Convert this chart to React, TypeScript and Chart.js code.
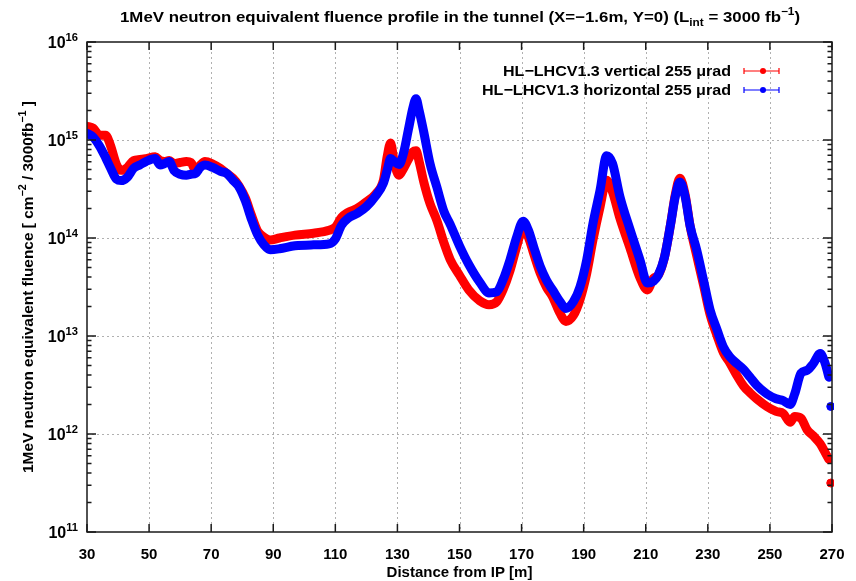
import React, { useEffect, useRef } from "react";
import { Chart, registerables } from "chart.js";

Chart.register(...registerables);

// Distance from the interaction point [m]
const distance = [
  30, 32, 34, 36, 37.5, 39.5, 41, 43, 45, 47, 49, 52, 53.5, 55, 56.5, 58, 60, 62, 63.5, 65,
  66.5, 68, 70.5, 73, 75, 77, 79, 81, 83, 85, 87, 89, 92, 97, 103, 108, 110, 112, 114, 117,
  120, 123, 125.5, 126.7, 127.8, 129, 130.5, 132, 133.5, 135, 136, 137, 138.5, 140.5, 142.7,
  145, 147, 150, 153, 156.5, 159.5, 162, 164, 166.3, 168.4, 170.5, 172.2, 174, 176, 178, 180,
  182.4, 184.3, 186.7, 188.8, 191, 193, 195.3, 197.4, 199.3, 201.7, 204.9, 208.2, 210.5,
  212.5, 214, 216, 218, 219.5, 221, 222.7, 224.3, 226.4, 228.6, 230.7, 233, 235, 237, 239.3,
  241.5, 243.6, 245.7, 249, 252, 254.3, 256.5, 258, 260, 262, 264, 266.2, 267.8, 269,
];

// 1 MeV neq fluence, vertical crossing
const verticalFluence = [
  1.38e15, 1.32e15, 1.12e15, 1.12e15, 8.91e14, 5.62e14, 4.9e14, 5.25e14, 6.17e14, 6.31e14,
  6.46e14, 6.76e14, 6.17e14, 6.03e14, 6.17e14, 5.75e14, 5.89e14, 6.03e14, 5.89e14, 4.9e14,
  5.56e14, 6.03e14, 5.69e14, 5.13e14, 4.57e14, 4.07e14, 3.39e14, 2.57e14, 1.7e14, 1.17e14,
  1.02e14, 9.55e13, 1.0e14, 1.07e14, 1.12e14, 1.2e14, 1.29e14, 1.62e14, 1.82e14, 2.0e14,
  2.34e14, 2.82e14, 3.89e14, 6.76e14, 9.33e14, 5.89e14, 4.37e14, 5.13e14, 6.31e14, 7.59e14,
  7.76e14, 6.03e14, 3.72e14, 2.24e14, 1.51e14, 8.91e13, 6.03e13, 4.17e13, 2.95e13, 2.29e13,
  2.09e13, 2.24e13, 2.95e13, 4.68e13, 8.13e13, 1.26e14, 1.02e14, 6.76e13, 4.37e13, 3.16e13,
  2.51e13, 1.7e13, 1.41e13, 1.62e13, 2.34e13, 4.37e13, 9.55e13, 2.09e14, 3.89e14, 2.95e14,
  1.58e14, 7.94e13, 3.89e13, 2.95e13, 3.89e13, 4.17e13, 6.31e13, 1.38e14, 2.75e14, 4.07e14,
  2.75e14, 1.32e14, 6.61e13, 3.31e13, 1.66e13, 1.0e13, 6.76e12, 5.37e12, 3.98e12, 3.09e12,
  2.63e12, 2.29e12, 1.91e12, 1.7e12, 1.62e12, 1.32e12, 1.51e12, 1.45e12, 1.1e12, 9.55e11,
  7.94e11, 6.46e11, 5.5e11,
];

// 1 MeV neq fluence, horizontal crossing
const horizontalFluence = [
  1.17e15, 1.07e15, 8.71e14, 6.61e14, 5.25e14, 3.98e14, 3.85e14, 4.17e14, 5.13e14, 5.56e14,
  6.03e14, 6.46e14, 5.56e14, 5.75e14, 6.03e14, 4.9e14, 4.47e14, 4.37e14, 4.47e14, 4.57e14,
  5.25e14, 5.56e14, 5.25e14, 4.79e14, 4.57e14, 3.89e14, 3.31e14, 2.4e14, 1.55e14, 1.07e14,
  8.51e13, 7.59e13, 7.76e13, 8.32e13, 8.51e13, 8.71e13, 9.77e13, 1.35e14, 1.58e14, 1.78e14,
  2.09e14, 2.69e14, 3.63e14, 4.9e14, 6.46e14, 6.03e14, 5.62e14, 7.41e14, 1.26e15, 2.14e15,
  2.63e15, 2.0e15, 1.2e15, 5.75e14, 3.31e14, 1.86e14, 1.38e14, 8.32e13, 5.37e13, 3.55e13,
  2.75e13, 2.82e13, 3.72e13, 6.03e13, 1.02e14, 1.48e14, 1.2e14, 7.94e13, 5.13e13, 3.72e13,
  2.95e13, 2.24e13, 1.91e13, 2.24e13, 3.16e13, 6.03e13, 1.41e14, 3.09e14, 6.92e14, 5.75e14,
  2.63e14, 1.23e14, 5.89e13, 3.47e13, 3.63e13, 4.17e13, 6.31e13, 1.38e14, 2.63e14, 3.72e14,
  2.63e14, 1.32e14, 7.59e13, 3.72e13, 1.86e13, 1.15e13, 7.76e12, 6.17e12, 5.25e12, 4.57e12,
  3.8e12, 3.16e12, 2.57e12, 2.29e12, 2.19e12, 2.0e12, 2.57e12, 4.17e12, 4.47e12, 5.25e12,
  6.61e12, 5.25e12, 3.8e12,
];

// Last bin at the end of the tunnel, shown on its own
const lastBinDistance = 269.6;
const lastBinVertical = 3.16e11;
const lastBinHorizontal = 1.91e12;

const xTicks = [30, 50, 70, 90, 110, 130, 150, 170, 190, 210, 230, 250, 270];
const yExponents = [11, 12, 13, 14, 15, 16];
const seriesLabels = ["HL−LHCV1.3 vertical 255 μrad", "HL−LHCV1.3 horizontal 255 μrad"];
const seriesColors = ["#ff0000", "#0000ff"];

type Part = [string, number]; // 0 normal, 1 superscript, -1 subscript

const titleParts: Part[] = [
  ["1MeV neutron equivalent fluence profile in the tunnel (X=−1.6m, Y=0) (L", 0],
  ["int", -1],
  [" = 3000 fb", 0],
  ["−1", 1],
  [")", 0],
];
const yTitleParts: Part[] = [
  ["1MeV neutron equivalent fluence [ cm", 0],
  ["−2", 1],
  [" / 3000fb", 0],
  ["−1", 1],
  [" ]", 0],
];
const xTitle = "Distance from IP [m]";

const FONT = '"Liberation Sans", Arial, Helvetica, sans-serif';

function drawRich(
  ctx: CanvasRenderingContext2D,
  parts: Part[],
  x: number,
  y: number,
  size: number,
  align: "left" | "center" | "right",
  fitWidth?: number
) {
  const small = size * 0.7;
  const widths = parts.map(([t, k]) => {
    ctx.font = `bold ${k === 0 ? size : small}px ${FONT}`;
    return ctx.measureText(t).width;
  });
  const total = widths.reduce((a, b) => a + b, 0);
  const sx = fitWidth ? fitWidth / total : 1;
  const w = total * sx;
  const x0 = align === "left" ? x : align === "center" ? x - w / 2 : x - w;
  ctx.save();
  ctx.translate(x0, y);
  ctx.scale(sx, 1);
  ctx.textAlign = "left";
  ctx.textBaseline = "alphabetic";
  let cx = 0;
  parts.forEach(([t, k], i) => {
    ctx.font = `bold ${k === 0 ? size : small}px ${FONT}`;
    const dy = k === 1 ? -size * 0.45 : k === -1 ? size * 0.28 : 0;
    ctx.fillText(t, cx, dy);
    cx += widths[i];
  });
  ctx.restore();
}

const framePlugin = {
  id: "gnuplotFrame",
  beforeDatasetsDraw(chart: any) {
    const { ctx, chartArea: a, scales } = chart;
    const xs = scales.x;
    const ys = scales.y;
    ctx.save();
    ctx.strokeStyle = "#b0b0b0";
    ctx.lineWidth = 1;
    ctx.setLineDash([2, 3]);
    xTicks.slice(1, -1).forEach((v) => {
      const px = Math.round(xs.getPixelForValue(v)) + 0.5;
      ctx.beginPath();
      ctx.moveTo(px, a.top);
      ctx.lineTo(px, a.bottom);
      ctx.stroke();
    });
    yExponents.slice(1, -1).forEach((e) => {
      const py = Math.round(ys.getPixelForValue(Math.pow(10, e))) + 0.5;
      ctx.beginPath();
      ctx.moveTo(a.left, py);
      ctx.lineTo(a.right, py);
      ctx.stroke();
    });
    ctx.restore();
  },
  afterDatasetsDraw(chart: any) {
    const { ctx, chartArea: a, scales } = chart;
    const xs = scales.x;
    const ys = scales.y;
    ctx.save();
    ctx.fillStyle = "#000";
    ctx.strokeStyle = "#1a1a1a";
    ctx.lineWidth = 1.5;
    ctx.setLineDash([]);

    // frame
    ctx.strokeRect(a.left, a.top, a.right - a.left, a.bottom - a.top);

    // x ticks (bottom and top)
    xTicks.forEach((v) => {
      const px = xs.getPixelForValue(v);
      ctx.beginPath();
      ctx.moveTo(px, a.bottom);
      ctx.lineTo(px, a.bottom - 8);
      ctx.moveTo(px, a.top);
      ctx.lineTo(px, a.top + 8);
      ctx.stroke();
    });

    // y ticks: decades and minor 2..9
    yExponents.forEach((e) => {
      const py = ys.getPixelForValue(Math.pow(10, e));
      ctx.beginPath();
      ctx.moveTo(a.left, py);
      ctx.lineTo(a.left + 9, py);
      ctx.moveTo(a.right, py);
      ctx.lineTo(a.right - 9, py);
      ctx.stroke();
      if (e < 16) {
        for (let m = 2; m <= 9; m++) {
          const pm = ys.getPixelForValue(m * Math.pow(10, e));
          ctx.beginPath();
          ctx.moveTo(a.left, pm);
          ctx.lineTo(a.left + 4.5, pm);
          ctx.moveTo(a.right, pm);
          ctx.lineTo(a.right - 4.5, pm);
          ctx.stroke();
        }
      }
    });

    // y tick labels
    yExponents.forEach((e) => {
      const py = ys.getPixelForValue(Math.pow(10, e));
      drawRich(ctx, [["10", 0], [String(e), 1]], a.left - 9, py + 6, 16, "right");
    });

    // x tick labels
    ctx.font = `bold 15px ${FONT}`;
    ctx.textAlign = "center";
    ctx.textBaseline = "alphabetic";
    xTicks.forEach((v) => {
      ctx.fillText(String(v), xs.getPixelForValue(v), a.bottom + 27);
    });

    // axis titles
    drawRich(ctx, [[xTitle, 0]], (a.left + a.right) / 2, a.bottom + 45, 15, "center");
    ctx.save();
    ctx.translate(33, (a.top + a.bottom) / 2);
    ctx.rotate(-Math.PI / 2);
    drawRich(ctx, yTitleParts, 0, 0, 15, "center", 372);
    ctx.restore();

    // chart title
    drawRich(ctx, titleParts, 460, 22, 15, "center", 680);

    // key
    const keyRight = 731;
    const keyWidths = [228, 249];
    [0, 1].forEach((i) => {
      const cy = 71 + i * 19;
      ctx.fillStyle = "#000";
      drawRich(ctx, [[seriesLabels[i], 0]], keyRight, cy + 5, 15.5, "right", keyWidths[i]);
      ctx.strokeStyle = seriesColors[i];
      ctx.fillStyle = seriesColors[i];
      ctx.lineWidth = 1.2;
      ctx.beginPath();
      ctx.moveTo(744, cy);
      ctx.lineTo(779, cy);
      ctx.moveTo(744, cy - 3);
      ctx.lineTo(744, cy + 3);
      ctx.moveTo(779, cy - 3);
      ctx.lineTo(779, cy + 3);
      ctx.stroke();
      ctx.beginPath();
      ctx.arc(763, cy, 3, 0, Math.PI * 2);
      ctx.fill();
    });
    ctx.restore();
  },
};

export default function App() {
  const canvasRef = useRef<HTMLCanvasElement | null>(null);

  useEffect(() => {
    const canvas = canvasRef.current;
    if (!canvas) return;
    const band = (values: number[], i: number, order: number) => ({
      label: seriesLabels[i],
      data: distance.map((x, k) => ({ x, y: values[k] })),
      borderColor: seriesColors[i],
      backgroundColor: seriesColors[i],
      borderWidth: 9,
      borderJoinStyle: "round" as const,
      borderCapStyle: "round" as const,
      cubicInterpolationMode: "monotone" as const,
      pointRadius: 0,
      fill: false,
      clip: 0,
      order,
    });
    const lastBin = (value: number, i: number, order: number) => ({
      label: seriesLabels[i] + " (last bin)",
      data: [{ x: lastBinDistance, y: value }],
      showLine: false,
      pointRadius: 4,
      pointStyle: "circle" as const,
      pointBackgroundColor: seriesColors[i],
      pointBorderColor: seriesColors[i],
      borderColor: seriesColors[i],
      backgroundColor: seriesColors[i],
      clip: 2,
      order,
    });

    const chart = new Chart(canvas, {
      type: "line",
      data: {
        datasets: [
          band(verticalFluence, 0, 4),
          band(horizontalFluence, 1, 3),
          lastBin(lastBinVertical, 0, 2),
          lastBin(lastBinHorizontal, 1, 1),
        ] as any,
      },
      options: {
        animation: false,
        responsive: false,
        devicePixelRatio: 1,
        layout: { padding: { left: 87, right: 24, top: 42, bottom: 49 } },
        scales: {
          x: { type: "linear", min: 30, max: 270, display: false },
          y: { type: "logarithmic", min: 1e11, max: 1e16, display: false },
        },
        plugins: {
          legend: { display: false },
          tooltip: { enabled: false },
          title: { display: false },
        },
      },
      plugins: [framePlugin],
    });
    return () => chart.destroy();
  }, []);

  return (
    <div
      style={{
        position: "fixed",
        left: 0,
        top: 0,
        width: 856,
        height: 581,
        background: "#ffffff",
      }}
    >
      <canvas ref={canvasRef} width={856} height={581} style={{ display: "block" }} />
    </div>
  );
}
